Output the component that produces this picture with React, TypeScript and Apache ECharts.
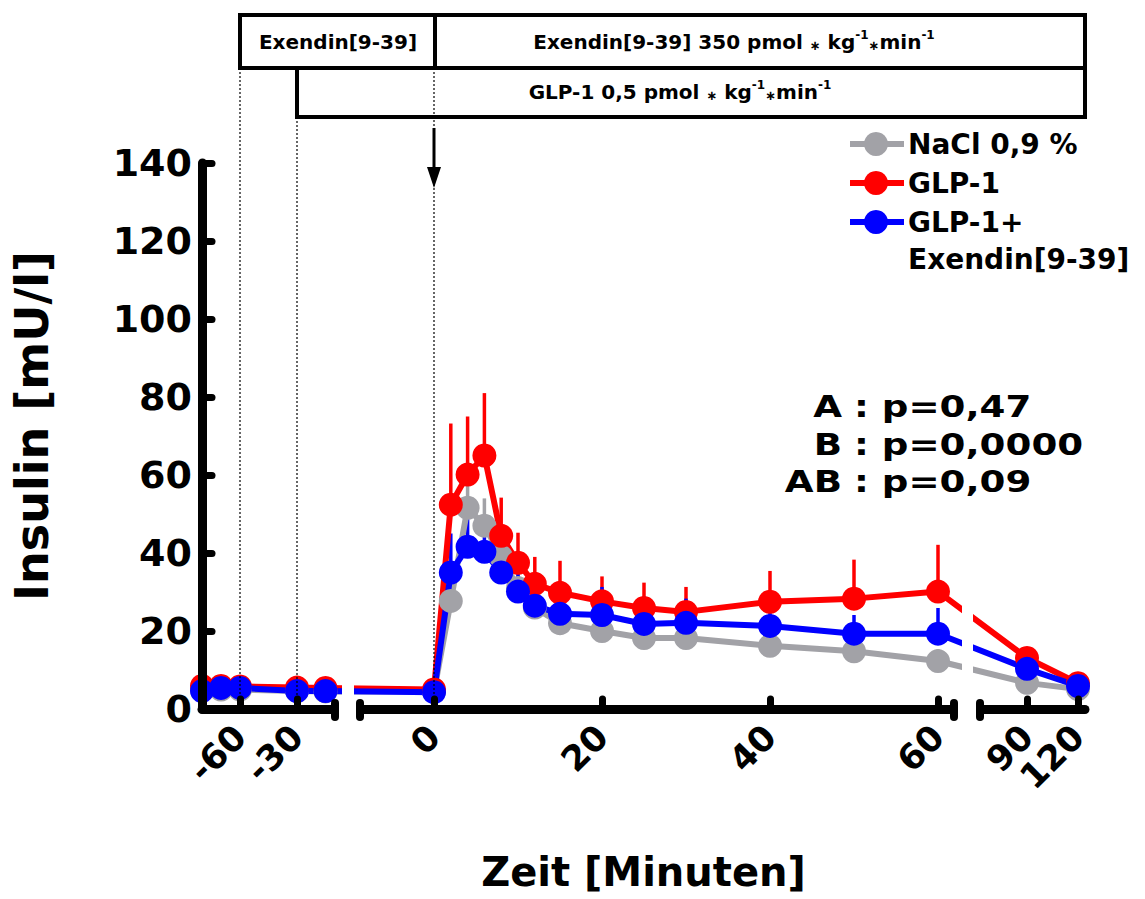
import { useEffect, useRef } from 'react';
import * as echarts from 'echarts';

// ---------- data ----------
const TIMES = [-80, -70, -60, -30, -15, 0, 2, 4, 6, 8, 10, 12, 15, 20, 25, 30, 40, 50, 60, 90, 120];

const NACL = [5.0, 5.0, 5.0, 4.6, 4.5, 4.5, 27.7, 51.6, 47.0, 39.0, 31.0, 26.0, 22.0, 20.0, 18.2, 18.2, 16.2, 14.8, 12.3, 6.7, 5.1];
const NACL_SEM = [0.8, 0.8, 0.8, 0.7, 0.7, 0.7, 8.0, 8.0, 7.0, 6.0, 5.0, 4.0, 3.0, 3.0, 3.0, 3.0, 3.0, 3.0, 3.0, 2.0, 1.0];

const GLP1 = [5.9, 5.9, 5.8, 5.5, 5.4, 5.0, 52.4, 60.1, 65.0, 44.4, 37.5, 32.1, 29.8, 27.6, 25.9, 24.9, 27.5, 28.3, 30.1, 13.1, 6.6];
const GLP1_SEM = [0.8, 0.8, 0.8, 0.7, 0.7, 0.7, 20.8, 14.9, 16.0, 9.8, 7.7, 6.9, 8.2, 6.4, 6.5, 6.4, 7.9, 10.0, 12.0, 2.0, 1.0];

const GLP1_EX = [4.6, 5.4, 5.4, 4.6, 4.6, 4.3, 35.0, 41.6, 40.3, 35.0, 30.1, 26.5, 24.4, 24.1, 21.8, 22.1, 21.3, 19.3, 19.3, 10.3, 5.9];
const GLP1_EX_SEM = [0.8, 0.8, 0.8, 0.7, 0.7, 0.7, 10.0, 10.8, 8.7, 8.2, 7.4, 8.2, 6.7, 7.2, 7.0, 6.2, 5.7, 4.8, 6.6, 2.0, 1.0];

const X_TICKS = [-60, -30, 0, 20, 40, 60, 90, 120];
const Y_MIN = 0;
const Y_MAX = 140;
const Y_STEP = 20;

const SERIES_NAMES = ['NaCl 0,9 %', 'GLP-1', 'GLP-1+ Exendin[9-39]'];
const LEGEND_LINES = [['NaCl 0,9 %'], ['GLP-1'], ['GLP-1+', 'Exendin[9-39]']];
const ANNOT_LABELS = ['A', 'B', 'AB'];
const ANNOT_VALUES = ['p=0,47', 'p=0,0000', 'p=0,09'];

const X_NAME = 'Zeit [Minuten]';
const Y_NAME = 'Insulin [mU/l]';
const BOX_SHORT = 'Exendin[9-39]';
const BOX_EX = '{n|Exendin[9-39] 350 pmol }{s|∗}{n| kg}{u|-1}{s|∗}{n|min}{u|-1}';
const BOX_GLP = '{n|GLP-1 0,5 pmol }{s|∗}{n| kg}{u|-1}{s|∗}{n|min}{u|-1}';

// ---------- styling / layout ----------
const FONT = 'DejaVu Sans';
const GRAY = '#a2a2a7';
const RED = '#ff0000';
const BLUE = '#0000ff';
const GRID_LEFT = 202;
const GRID_TOP = 163;
const GRID_H = 546;
const X_SPAN = 883;

// broken time scale (three segments with different minute widths)
function u(t: number): number {
  if (t <= -10) return (t + 80) * 1.9;
  if (t <= 75) return 232 + 8.4 * t;
  return 825 + 1.7 * (t - 90);
}
const px = (t: number) => GRID_LEFT + u(t);

function App() {
  const ref = useRef<HTMLDivElement>(null);

  useEffect(() => {
    const chart = echarts.init(ref.current!, null, { renderer: 'svg' });

    const groups = [
      { name: SERIES_NAMES[0], vals: NACL, sem: NACL_SEM, color: GRAY },
      { name: SERIES_NAMES[1], vals: GLP1, sem: GLP1_SEM, color: RED },
      { name: SERIES_NAMES[2], vals: GLP1_EX, sem: GLP1_EX_SEM, color: BLUE },
    ];

    const series: any[] = [];
    groups.forEach((g) => {
      series.push({
        type: 'custom',
        name: g.name + ' SEM',
        silent: true,
        data: TIMES.map((t, i) => [u(t), g.vals[i], g.vals[i] + g.sem[i]]),
        encode: { x: 0, y: [1, 2] },
        renderItem: (_p: any, api: any) => {
          const a = api.coord([api.value(0), api.value(1)]);
          const b = api.coord([api.value(0), api.value(2)]);
          return {
            type: 'line',
            shape: { x1: a[0], y1: a[1], x2: b[0], y2: b[1] },
            style: { stroke: g.color, lineWidth: 3.5 },
          };
        },
      });
      series.push({
        type: 'line',
        name: g.name,
        data: TIMES.map((t, i) => [u(t), g.vals[i]]),
        symbol: 'circle',
        symbolSize: 24,
        lineStyle: { width: 6, color: g.color },
        itemStyle: { color: g.color },
        emphasis: { disabled: true },
        silent: true,
      });
    });

    const tickU = X_TICKS.map(u);
    const bold = { fontFamily: FONT, fontWeight: 'bold' as const };

    const txt = (x: number, y: number, text: string, size: number, align: string, extra: any = {}) => ({
      type: 'text',
      x,
      y,
      z: 100,
      ...extra,
      style: {
        text,
        fill: '#000',
        fontSize: size,
        fontFamily: FONT,
        fontWeight: 'bold',
        align,
        textAlign: align,
        verticalAlign: 'middle',
        textVerticalAlign: 'middle',
        ...(extra.style || {}),
      },
    });

    const rich = {
      n: { fontSize: 20, fontFamily: FONT, fontWeight: 'bold', fill: '#000' },
      u: { fontSize: 12, fontFamily: FONT, fontWeight: 'bold', fill: '#000', padding: [0, 0, 14, 0] },
      s: { fontSize: 13, fontFamily: FONT, fontWeight: 'bold', fill: '#000', padding: [6, 0, 0, 0] },
    };

    const graphics: any[] = [];
    // treatment boxes
    graphics.push({ type: 'rect', z: 100, shape: { x: 240, y: 15, width: 845, height: 53 }, style: { fill: 'transparent', stroke: '#000', lineWidth: 4 } });
    graphics.push({ type: 'line', z: 100, shape: { x1: 435, y1: 15, x2: 435, y2: 68 }, style: { stroke: '#000', lineWidth: 4 } });
    graphics.push({ type: 'rect', z: 100, shape: { x: 297, y: 68, width: 788, height: 49 }, style: { fill: 'transparent', stroke: '#000', lineWidth: 4 } });
    graphics.push(txt(338, 42, BOX_SHORT, 20, 'center'));
    graphics.push(txt(734, 42, BOX_EX, 20, 'center', { style: { rich } }));
    graphics.push(txt(680, 92, BOX_GLP, 20, 'center', { style: { rich } }));

    // dotted guide lines at -60, -30 and 0 minutes
    const yAxisPx = GRID_TOP + GRID_H;
    [[-60, 68], [-30, 117], [0, 68]].forEach(([t, y0]) => {
      graphics.push({
        type: 'line', z: 100,
        shape: { x1: px(t), y1: y0, x2: px(t), y2: yAxisPx },
        style: { stroke: '#000', lineWidth: 1.2, lineDash: [2, 2] },
      });
    });

    // arrow at time 0
    graphics.push({ type: 'line', z: 100, shape: { x1: px(0), y1: 128, x2: px(0), y2: 172 }, style: { stroke: '#000', lineWidth: 3 } });
    graphics.push({ type: 'polygon', z: 100, shape: { points: [[px(0) - 7, 167], [px(0) + 7, 167], [px(0), 188]] }, style: { fill: '#000' } });

    // axis breaks: white gaps + end marks
    [[342, 354], [962, 973]].forEach(([a, b]) => {
      graphics.push({ type: 'rect', z: 50, shape: { x: a, y: 150, width: b - a, height: 552 }, style: { fill: '#fff' } });
    });
    [[339, 356], [958, 976]].forEach(([a, b]) => {
      graphics.push({ type: 'rect', z: 50, shape: { x: a, y: 702, width: b - a, height: 16 }, style: { fill: '#fff' } });
    });
    [335, 360, 954, 980].forEach((x) => {
      graphics.push({ type: 'rect', z: 60, shape: { x: x - 4, y: 699, width: 8, height: 22, r: 4 }, style: { fill: '#000' } });
    });

    // legend
    const colors = [GRAY, RED, BLUE];
    const rowY = [144, 183, 222];
    LEGEND_LINES.forEach((lines, i) => {
      const y = rowY[i];
      graphics.push({ type: 'line', z: 100, shape: { x1: 850, y1: y, x2: 904, y2: y }, style: { stroke: colors[i], lineWidth: 6 } });
      graphics.push({ type: 'circle', z: 100, shape: { cx: 876, cy: y, r: 12 }, style: { fill: colors[i] } });
      lines.forEach((line, j) => {
        graphics.push(txt(908, y + j * 37, line, 28, 'left'));
      });
    });

    // statistics annotation
    const annY = [406, 444, 481];
    ANNOT_LABELS.forEach((lab, i) => {
      graphics.push(txt(842, annY[i], lab, 31, 'right', { scaleX: 1.2 }));
      graphics.push(txt(854, annY[i], ': ' + ANNOT_VALUES[i], 31, 'left', { scaleX: 1.2 }));
    });

    const option: any = {
      animation: false,
      textStyle: { fontFamily: FONT },
      grid: { left: GRID_LEFT, top: GRID_TOP, width: X_SPAN, height: GRID_H, outerBoundsMode: 'none' },
      xAxis: {
        type: 'value',
        min: 0,
        max: X_SPAN,
        z: 5,
        axisLine: { show: true, onZero: false, lineStyle: { color: '#000', width: 9, cap: 'round' } },
        axisTick: { show: true, inside: true, length: 10, customValues: tickU, lineStyle: { color: '#000', width: 7, cap: 'round' } },
        axisLabel: {
          show: true,
          customValues: tickU,
          rotate: 45,
          margin: 22,
          color: '#000',
          fontSize: 35,
          ...bold,
          formatter: (v: number) => {
            const t = X_TICKS.find((tt) => Math.abs(u(tt) - v) < 1e-6);
            return t === undefined ? '' : String(t);
          },
        },
        splitLine: { show: false },
        name: X_NAME,
        nameLocation: 'middle',
        nameGap: 146,
        nameTextStyle: { color: '#000', fontSize: 40, lineHeight: 34, ...bold },
      },
      yAxis: {
        type: 'value',
        min: Y_MIN,
        max: Y_MAX,
        interval: Y_STEP,
        z: 5,
        axisLine: { show: true, lineStyle: { color: '#000', width: 9, cap: 'round' } },
        axisTick: { show: true, inside: true, length: 10, lineStyle: { color: '#000', width: 7, cap: 'round' } },
        axisLabel: { color: '#000', fontSize: 38, margin: 10, ...bold },
        splitLine: { show: false },
        name: Y_NAME,
        nameLocation: 'middle',
        nameGap: 147,
        nameTextStyle: { color: '#000', fontSize: 46, ...bold, padding: [0, 0, 0, 20] },
      },
      series,
      graphic: { elements: graphics },
    };

    chart.setOption(option);
    return () => chart.dispose();
  }, []);

  return <div ref={ref} style={{ position: 'absolute', left: 0, top: 0, width: 1145, height: 899 }} />;
}

export default App;
